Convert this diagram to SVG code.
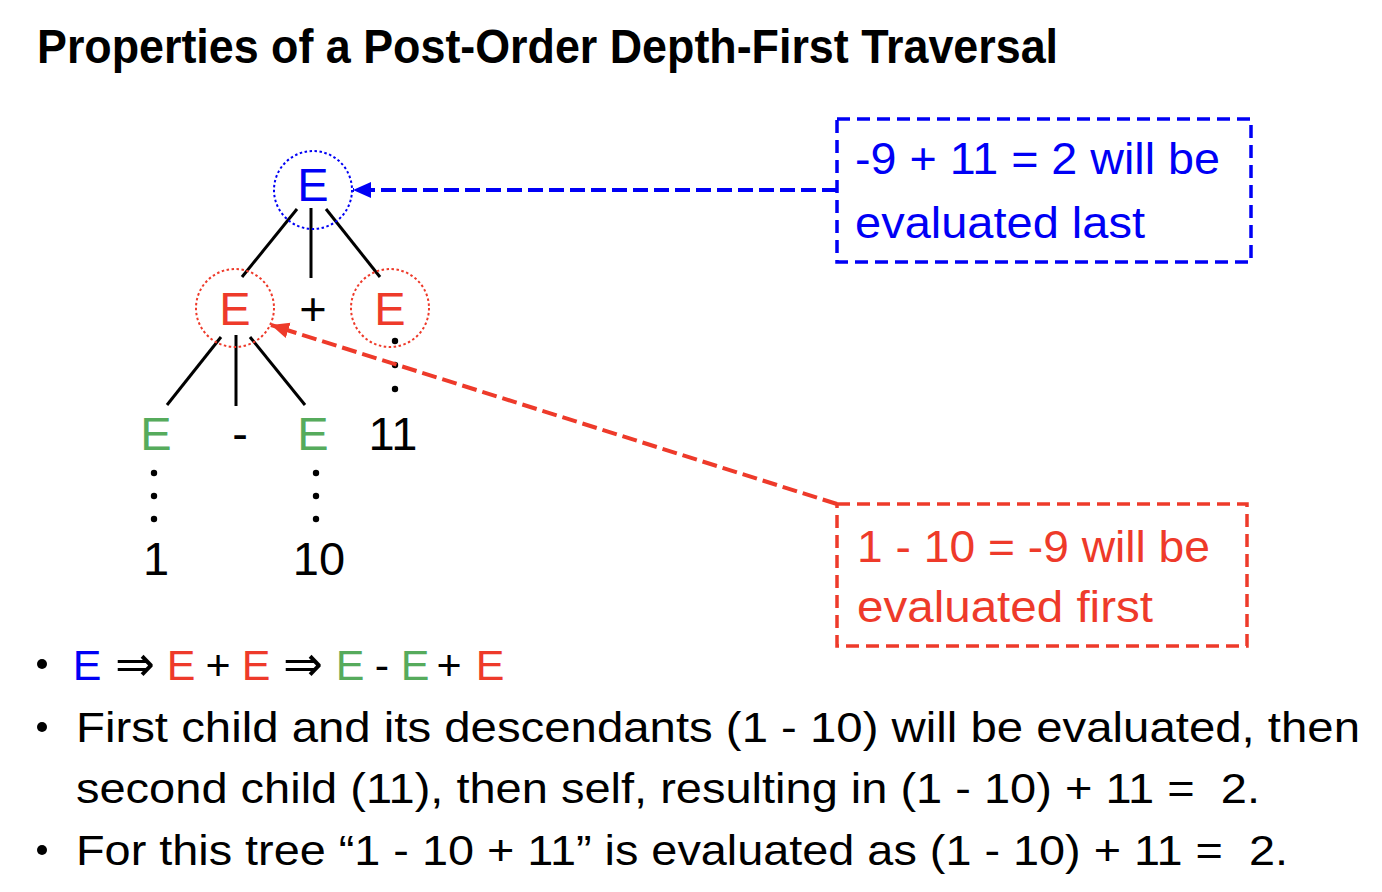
<svg xmlns="http://www.w3.org/2000/svg" width="1382" height="892" viewBox="0 0 1382 892">
<style>
text{font-family:"Liberation Sans","DejaVu Sans",sans-serif;white-space:pre}
.t{font-size:47px;text-anchor:middle}
.b{font-size:45px}
.l{font-size:43px;fill:#000}
.blue{fill:#0000F5}
.red{fill:#EE3A2A}
.green{fill:#56AB5C}
.blk{fill:#000}
.arr{font-family:"DejaVu Sans",sans-serif;font-size:50px}
.edge{stroke:#000;stroke-width:3;fill:none}
.dot{fill:#000}
</style>
<defs>
<marker id="ab" markerUnits="userSpaceOnUse" markerWidth="20" markerHeight="20" refX="18" refY="10" orient="auto"><path d="M18,10 L0,2 L0,18 Z" fill="#0000F5"/></marker>
<marker id="ar" markerUnits="userSpaceOnUse" markerWidth="20" markerHeight="20" refX="18" refY="10" orient="auto"><path d="M18,10 L0,2 L0,18 Z" fill="#EE3A2A"/></marker>
</defs>
<rect width="1382" height="892" fill="#fff"/>
<text x="37" y="63" font-size="48" font-weight="bold" textLength="1021" lengthAdjust="spacingAndGlyphs">Properties of a Post-Order Depth-First Traversal</text>

<g id="connectors">
<line class="edge" x1="297" y1="209" x2="242" y2="277"/>
<line class="edge" x1="311" y1="208" x2="311" y2="278"/>
<line class="edge" x1="326" y1="209" x2="380" y2="277"/>
<line class="edge" x1="221" y1="337" x2="167" y2="405"/>
<line class="edge" x1="236" y1="335" x2="236" y2="406"/>
<line class="edge" x1="250" y1="337" x2="305" y2="405"/>
<g class="dot">
<circle cx="154" cy="473" r="3.2"/><circle cx="154" cy="496" r="3.2"/><circle cx="154" cy="519" r="3.2"/>
<circle cx="316" cy="473" r="3.2"/><circle cx="316" cy="496" r="3.2"/><circle cx="316" cy="519" r="3.2"/>
<circle cx="395" cy="341" r="3.2"/><circle cx="395" cy="365" r="3.2"/><circle cx="395" cy="389" r="3.2"/>
</g>
<line x1="837" y1="190" x2="353" y2="190" stroke="#0000F5" stroke-width="4" stroke-dasharray="15 6" marker-end="url(#ab)"/>
<line x1="837" y1="504" x2="271" y2="325" stroke="#EE3A2A" stroke-width="4" stroke-dasharray="15 6" marker-end="url(#ar)"/>
</g>

<g id="node-root">
<circle cx="313" cy="190" r="39" fill="none" stroke="#0000F5" stroke-width="2" stroke-dasharray="2.5 2.5"/>
<text class="t blue" x="313" y="201">E</text>
</g>
<g id="node-left">
<circle cx="235" cy="308" r="39" fill="none" stroke="#EE3A2A" stroke-width="2" stroke-dasharray="2.5 2.5"/>
<text class="t red" x="235" y="325">E</text>
</g>
<g id="node-plus"><text class="t blk" x="313" y="325">+</text></g>
<g id="node-right">
<circle cx="390" cy="308" r="39" fill="none" stroke="#EE3A2A" stroke-width="2" stroke-dasharray="2.5 2.5"/>
<text class="t red" x="390" y="325">E</text>
</g>
<g id="node-ll"><text class="t green" x="156" y="450">E</text></g>
<g id="node-minus"><text class="t blk" x="240" y="450">-</text></g>
<g id="node-lr"><text class="t green" x="313" y="450">E</text></g>
<g id="node-11"><text class="t blk" x="393" y="450">11</text></g>
<g id="node-1"><text class="t blk" x="156" y="575">1</text></g>
<g id="node-10"><text class="t blk" x="319" y="575">10</text></g>

<g id="note-last">
<rect x="837" y="119" width="414" height="143" fill="none" stroke="#0000F5" stroke-width="3.5" stroke-dasharray="13 7"/>
<text class="b blue" x="855" y="174" textLength="365" lengthAdjust="spacingAndGlyphs">-9 + 11 = 2 will be</text>
<text class="b blue" x="855" y="238" textLength="290" lengthAdjust="spacingAndGlyphs">evaluated last</text>
</g>
<g id="note-first">
<rect x="837" y="504" width="410" height="142" fill="none" stroke="#EE3A2A" stroke-width="3.5" stroke-dasharray="13 7"/>
<text class="b red" x="857" y="562" textLength="353" lengthAdjust="spacingAndGlyphs">1 - 10 = -9 will be</text>
<text class="b red" x="857" y="622" textLength="296" lengthAdjust="spacingAndGlyphs">evaluated first</text>
</g>

<g id="bullets">
<circle cx="42" cy="664" r="5"/>
<circle cx="42" cy="727" r="5"/>
<circle cx="42" cy="850" r="5"/>
<g font-size="43" text-anchor="middle">
<text class="blue" x="87" y="680" font-size="43">E</text>
<text class="blk arr" x="135" y="681" textLength="40" lengthAdjust="spacingAndGlyphs">⇒</text>
<text class="red" x="181" y="680" font-size="43">E</text>
<text class="blk" x="218" y="680" font-size="43">+</text>
<text class="red" x="256" y="680" font-size="43">E</text>
<text class="blk arr" x="303" y="681" textLength="40" lengthAdjust="spacingAndGlyphs">⇒</text>
<text class="green" x="350" y="680" font-size="43">E</text>
<text class="blk" x="382" y="680" font-size="43">-</text>
<text class="green" x="415" y="680" font-size="43">E</text>
<text class="blk" x="449" y="680" font-size="43">+</text>
<text class="red" x="490" y="680" font-size="43">E</text>
</g>
<text class="l" x="76" y="742" textLength="1284" lengthAdjust="spacingAndGlyphs">First child and its descendants (1 - 10) will be evaluated, then</text>
<text class="l" x="76" y="803" textLength="1184" lengthAdjust="spacingAndGlyphs">second child (11), then self, resulting in (1 - 10) + 11 =  2.</text>
<text class="l" x="76" y="865" textLength="1212" lengthAdjust="spacingAndGlyphs">For this tree “1 - 10 + 11” is evaluated as (1 - 10) + 11 =  2.</text>
</g>
</svg>
